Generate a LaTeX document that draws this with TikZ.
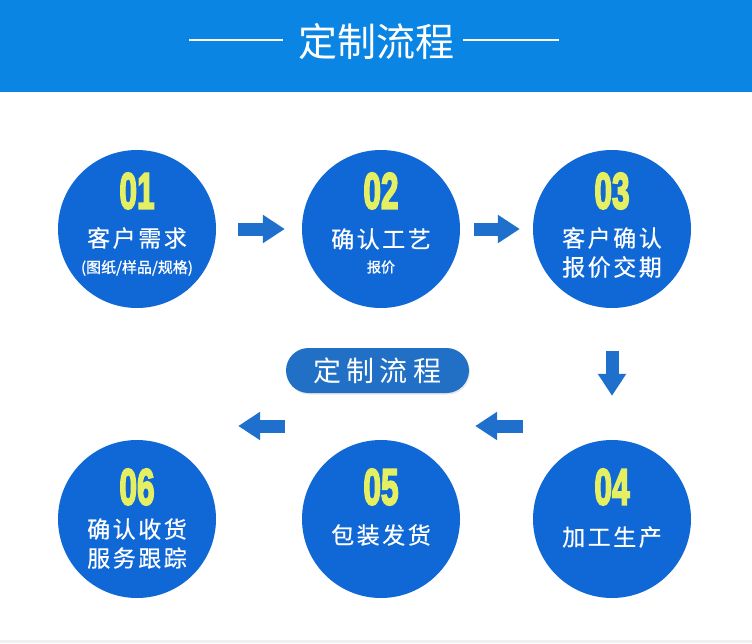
\documentclass[tikz,border=0pt]{standalone}
\usepackage{fontspec}
\usetikzlibrary{positioning,calc,arrows.meta,shadows}
\newfontfamily\cjk{Noto Sans CJK SC}
\newfontfamily\digitfont[FakeBold=4]{Liberation Sans}

\definecolor{headblue}{RGB}{10,133,227}
\definecolor{circblue}{RGB}{16,104,214}
\definecolor{arrowblue}{RGB}{30,112,204}
\definecolor{pillblue}{RGB}{34,112,198}
\definecolor{numyellow}{RGB}{229,239,98}

\tikzset{
  stepcirc/.style={circle, fill=circblue, minimum size=158pt, inner sep=0pt},
  stepnum/.style={text=numyellow, inner sep=0pt,
    font=\digitfont\bfseries\fontsize{51}{51}\selectfont},
  steptext/.style={text=white, align=center, inner sep=0pt,
    font=\cjk\fontsize{23}{29}\selectfont\addfontfeatures{LetterSpace=11,FakeBold=0.5}},
  stepnote/.style={text=white, inner sep=0pt,
    font=\cjk\fontsize{15}{15}\selectfont\addfontfeatures{FakeBold=1}},
  flow/.style={draw=arrowblue, line width=13pt, -{Triangle[length=22pt,width=27pt]}},
}

\begin{document}
\begin{tikzpicture}[x=1pt,y=-1pt]
    \useasboundingbox (0,0) rectangle (752,643);

    % Header
    \fill[headblue] (0,0) rectangle (752,92);
    \node[text=white, inner sep=0pt, font=\cjk\fontsize{39}{39}\selectfont] (title) at (376,42) {定制流程};
    \draw[white, line width=1.5pt] (189,40) -- (283,40);
    \draw[white, line width=1.5pt] (463,40) -- (559,40);
    \fill[gray!12] (0,640) rectangle (752,643);

    % Circles
    \foreach \i/\x/\y/\dy in {1/137/229/38, 2/381/229/38, 3/612/229/38,
                              4/612/519/32, 5/381/519/32, 6/137/519/32} {
        \node[stepcirc] (c\i) at (\x,\y) {};
        \node[stepnum] (n\i) at ([yshift=\dy pt]c\i) {\scalebox{0.62}[1]{0\i}};
    }

    % Labels
    \node[steptext] (t1) at ([yshift=-9pt]c1) {客户需求};
    \node[stepnote] (s1) at ([yshift=-39pt]c1) {(图纸/样品/规格)};
    \node[steptext] (t2) at ([yshift=-10pt]c2) {确认工艺};
    \node[stepnote, font=\cjk\fontsize{14}{14}\selectfont\addfontfeatures{FakeBold=1.5}] (s2) at ([yshift=-38pt]c2) {报价};
    \node[steptext] (t3) at ([yshift=-23.5pt]c3) {客户确认\\报价交期};
    \node[steptext] (t4) at ([yshift=-18pt]c4) {加工生产};
    \node[steptext] (t5) at ([yshift=-16pt]c5) {包装发货};
    \node[steptext] (t6) at ([yshift=-24.5pt]c6) {确认收货\\服务跟踪};

    % Middle tag
    \node[fill=pillblue, text=white, rounded corners=22.5pt, minimum width=183pt,
          minimum height=45pt, inner sep=0pt,
          drop shadow={opacity=0.2, shadow xshift=1pt, shadow yshift=-1.5pt},
          font=\cjk\fontsize{28}{28}\selectfont\addfontfeatures{LetterSpace=18}]
          (tag) at (377.5,370.5) {定制流程};

    % Arrows
    \draw[flow, shorten <=22pt, shorten >=17pt] (c1) -- (c2);
    \draw[flow, shorten <=14pt, shorten >=13pt] (c2) -- (c3);
    \draw[flow, shorten <=43pt, shorten >=44pt] (c3) -- (c4);
    \draw[flow, shorten <=10pt, shorten >=15pt] ([yshift=93pt]c4.west) -- ([yshift=93pt]c5.east);
    \draw[flow, shorten <=17pt, shorten >=22pt] ([yshift=93pt]c5.west) -- ([yshift=93pt]c6.east);
\end{tikzpicture}
\end{document}
